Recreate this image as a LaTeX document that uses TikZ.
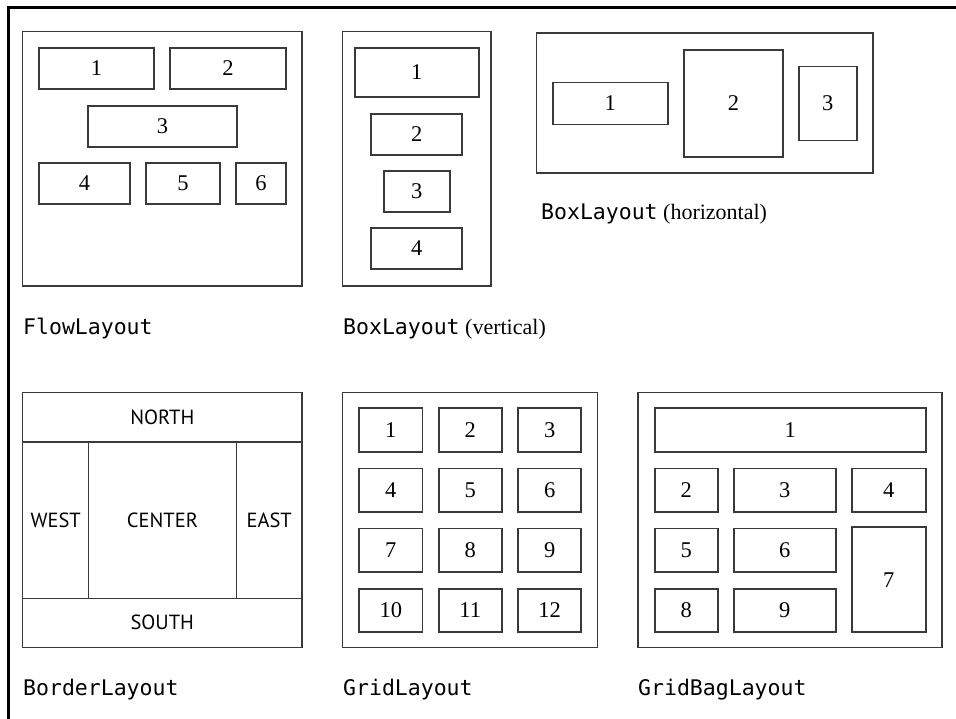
\documentclass[tikz,border=0pt]{standalone}
\usepackage{fontspec}
\setmainfont{Liberation Serif}
\setmonofont{DejaVu Sans Mono}
\setsansfont{PT Sans}

\definecolor{ink}{HTML}{3A3A3A}
\tikzset{
    panel/.style={draw=ink, line width=1.4pt, inner sep=0pt},
    cell/.style={draw=ink, line width=1.8pt, inner sep=0pt, font=\fontsize{22.5}{22.5}\selectfont},
    region/.style={draw=ink, line width=1.4pt, inner sep=0pt, font=\sffamily\fontsize{20.5}{20.5}\selectfont},
    caption/.style={anchor=base west, inner sep=0pt, font=\fontsize{22}{22}\selectfont},
}
\newcommand{\cls}[1]{{\ttfamily\fontsize{21.5}{22}\selectfont #1}}

\begin{document}
\begin{tikzpicture}[x=1pt, y=-1pt]
    \useasboundingbox (0,0) rectangle (956,719);
    \draw[line width=3pt] (8,719) -- (8,8) -- (956,8);

    % FlowLayout
    \node[panel, minimum width=279.3pt, minimum height=254.3pt] (flowpanel) at (162.3,158.8) {};
    \foreach \n/\x/\y/\w in {1/96.5/68.5/115, 2/228/68.5/116, 3/162.5/126.5/149, 4/84.5/183.5/91, 5/183/183.5/74, 6/261/183.5/50}
        \node[cell, minimum width=\w pt, minimum height=41pt] (flow\n) at (\x,\y) {\n};
    \node[caption] (flowcap) at (23,335) {\cls{FlowLayout}};

    % BoxLayout, vertical
    \node[panel, minimum width=148.3pt, minimum height=254.3pt] (vboxpanel) at (416.8,158.8) {};
    \foreach \n/\y/\w/\h in {1/72.5/123.7/49, 2/134.5/91/41, 3/191.5/66.3/41, 4/248.5/91/41}
        \node[cell, minimum width=\w pt, minimum height=\h pt] (vbox\n) at (416.8,\y) {\n};
    \node[caption] (vboxcap) at (343,335) {\cls{BoxLayout} (vertical)};

    % BoxLayout, horizontal
    \node[panel, minimum width=336.3pt, minimum height=140pt] (hboxpanel) at (704.8,103) {};
    \foreach \n/\x/\w/\h in {1/610.2/115/42, 2/733.5/99/107, 3/827.8/57.7/74}
        \node[cell, minimum width=\w pt, minimum height=\h pt] (hbox\n) at (\x,103.5) {\n};
    \node[caption] (hboxcap) at (541,220) {\cls{BoxLayout} (horizontal)};

    % BorderLayout
    \node[region, minimum width=279.3pt, minimum height=49.3pt] (north) at (162.3,417.3) {NORTH};
    \node[region, minimum width=66pt, minimum height=156.3pt] (west) at (55.7,520.2) {WEST};
    \node[region, minimum width=147.6pt, minimum height=156.3pt] (center) at (162.5,520.2) {CENTER};
    \node[region, minimum width=65.7pt, minimum height=156.3pt] (east) at (269.2,520.2) {EAST};
    \node[region, minimum width=279.3pt, minimum height=49pt] (south) at (162.3,622.8) {SOUTH};
    \node[caption] (bordercap) at (23,695) {\cls{BorderLayout}};

    % GridLayout
    \node[panel, minimum width=255pt, minimum height=254.6pt] (gridpanel) at (470.2,520) {};
    \foreach \r in {0,...,3}
        \foreach \c in {0,1,2} {
            \pgfmathtruncatemacro\n{3*\r+\c+1}
            \node[cell, minimum width=63.3pt, minimum height=43.5pt] (grid\n) at ({390.8+79.45*\c},{430+60.17*\r}) {\n};
        }
    \node[caption] (gridcap) at (343,695) {\cls{GridLayout}};

    % GridBagLayout
    \node[panel, minimum width=304pt, minimum height=254.6pt] (bagpanel) at (790,520) {};
    \foreach \n/\x/\y/\w/\h in {1/790.3/430/271.3/43.5, 2/686.3/490.2/63.3/43.5, 3/784.8/490.2/101.7/43.5, 4/888.8/490.2/74.3/43.5,
                                5/686.3/550.3/63.3/43.5, 6/784.8/550.3/101.7/43.5, 7/888.8/579.8/74.3/105,
                                8/686.3/610.5/63.3/43.5, 9/784.8/610.5/101.7/43.5}
        \node[cell, minimum width=\w pt, minimum height=\h pt] (bag\n) at (\x,\y) {\n};
    \node[caption] (bagcap) at (638,695) {\cls{GridBagLayout}};
\end{tikzpicture}
\end{document}
